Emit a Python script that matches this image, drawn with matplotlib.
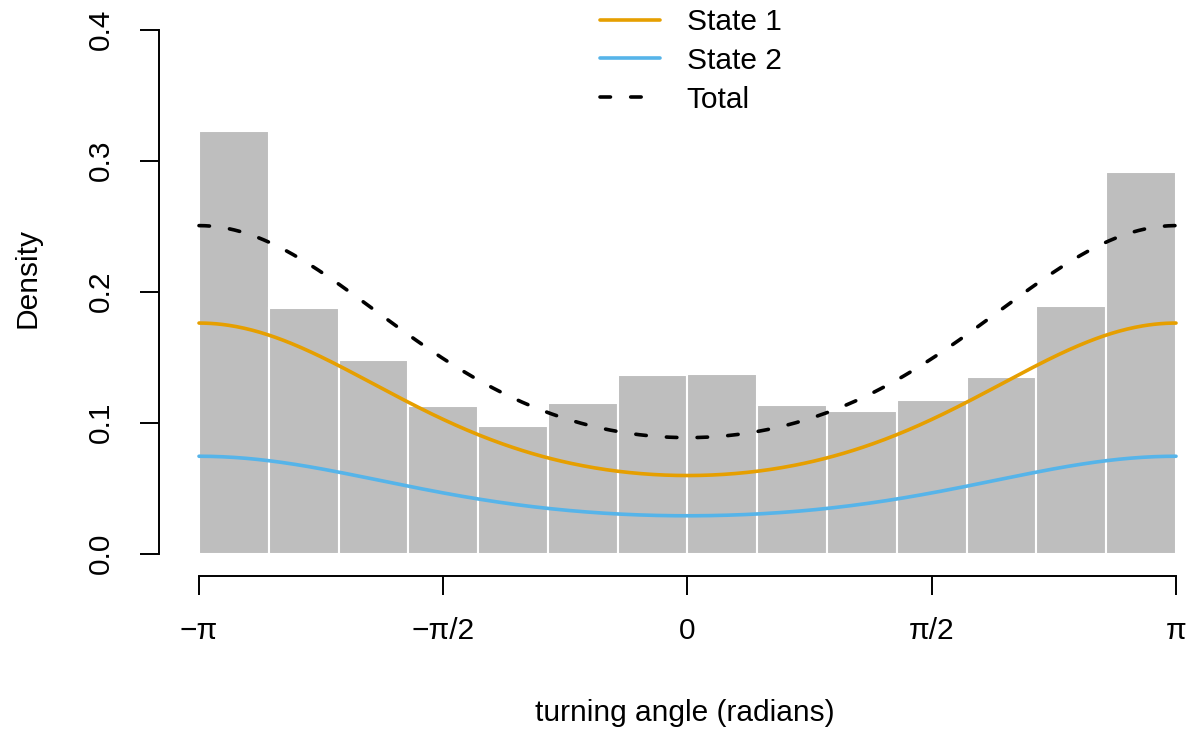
import numpy as np
import matplotlib
matplotlib.use("Agg")
import matplotlib.pyplot as plt

plt.rcParams['font.family'] = ['Liberation Sans', 'DejaVu Sans']

# --- histogram of observed turning angles (14 bins over [-pi, pi]) ---
n_bins = 14
hist_density = [0.3227, 0.1876, 0.1479, 0.1127, 0.0975, 0.1150, 0.1364,
                0.1372, 0.1135, 0.1090, 0.1173, 0.1349, 0.1891, 0.2914]

# --- fitted von Mises state distributions ---
state_labels = ["State 1", "State 2"]
state_colors = ["#E69F00", "#56B4E9"]
state_weights = [0.692, 0.308]
state_means = [np.pi, np.pi]
state_kappa = [0.541, 0.472]

x_ticks = [-np.pi, -np.pi / 2, 0, np.pi / 2, np.pi]
x_ticklabels = ["\u2212\u03c0", "\u2212\u03c0/2", "0", "\u03c0/2", "\u03c0"]
y_ticks = [0.0, 0.1, 0.2, 0.3, 0.4]


def dvm(x, mu, kappa):
    return np.exp(kappa * np.cos(x - mu)) / (2 * np.pi * np.i0(kappa))


W, H = 1193, 736
fig = plt.figure(figsize=(W / 100, H / 100), dpi=100)

# axes box in pixels, and pixel scale of the data
L, R, T, B = 150, 1190, 10, 600
x0px, x1px = 199, 1176
y0px, ypu = 553.7, 1310.0
xpu = (x1px - x0px) / (2 * np.pi)
ax = fig.add_axes([L / W, 1 - B / H, (R - L) / W, (B - T) / H])
ax.set_xlim(-np.pi - (x0px - L) / xpu, np.pi + (R - x1px) / xpu)
ax.set_ylim(-(B - y0px) / ypu, (y0px - T) / ypu)

edges = np.linspace(-np.pi, np.pi, n_bins + 1)
ax.bar(edges[:-1], hist_density, width=np.diff(edges), align='edge',
       color='#BEBEBE', edgecolor='white', linewidth=1.5, zorder=1)

lw = 2.6
xs = np.linspace(-np.pi, np.pi, 500)
total = np.zeros_like(xs)
for lab, col, w, mu, k in zip(state_labels, state_colors, state_weights,
                              state_means, state_kappa):
    dens = w * dvm(xs, mu, k)
    total += dens
    ax.plot(xs, dens, color=col, lw=lw, label=lab, solid_capstyle='round',
            zorder=3)
ax.plot(xs, total, color='black', lw=lw, ls=(0, (2.9, 5.6)),
        dash_capstyle='round', label='Total', zorder=3)

# detached R-style axes
for s in ['top', 'right']:
    ax.spines[s].set_visible(False)
ax.spines['left'].set_position(('data', -np.pi - (x0px - 159) / xpu))
ax.spines['left'].set_bounds(0, 0.4)
ax.spines['bottom'].set_position(('data', -(576 - y0px) / ypu))
ax.spines['bottom'].set_bounds(-np.pi, np.pi)
for s in ['left', 'bottom']:
    ax.spines[s].set_linewidth(1.4)

ax.set_xticks(x_ticks)
ax.set_xticklabels(x_ticklabels)
ax.set_yticks(y_ticks)
ax.set_yticklabels(["%.1f" % v for v in y_ticks])
ax.tick_params(axis='both', length=13.7, width=1.4, labelsize=21.5)
ax.tick_params(axis='x', pad=16)
ax.tick_params(axis='y', pad=18, labelrotation=90)
for lab in ax.get_yticklabels():
    lab.set_va('center')

fig.text(685 / W, 1 - 713 / H, "turning angle (radians)", fontsize=21.5,
         ha='center', va='center')
fig.text(28 / W, 1 - 278 / H, "Density", fontsize=21.5, rotation=90,
         ha='center', va='center')

ax.legend(loc='upper left', bbox_to_anchor=(600 / W, 1 - 8 / H),
          bbox_transform=fig.transFigure, frameon=False, fontsize=21.5,
          handlelength=2.0, handletextpad=0.9, labelspacing=0.36,
          borderpad=0, borderaxespad=0)

fig.savefig("out.png", dpi=100)
